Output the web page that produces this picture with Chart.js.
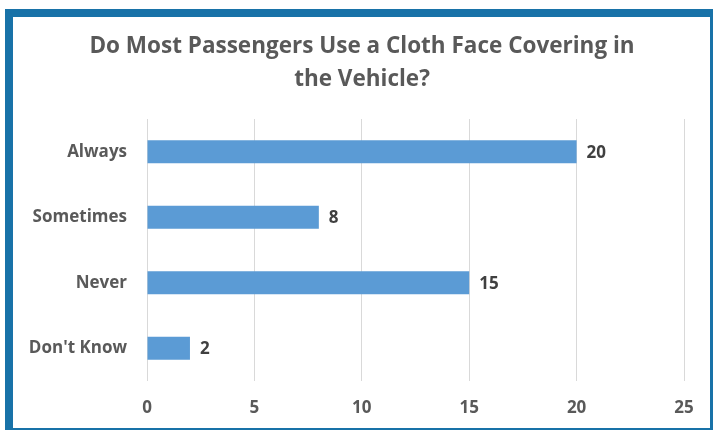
<!DOCTYPE html>
<html lang="en">
<head>
  <meta charset="UTF-8" />
  <title>Cloth Face Covering</title>
  <script src="https://cdn.jsdelivr.net/npm/chart.js"></script>
  <style>
    html, body { margin: 0; padding: 0; background: #fff; }
    .wrap { position: relative; width: 713px; height: 430px; }
    .frame {
      position: absolute; left: 5px; top: 9px; right: 0; bottom: 0;
      border-left: 8px solid #1872a8; border-top: 8px solid #1872a8;
      border-right: 3px solid #1872a8; border-bottom: 2px solid #1872a8;
      box-sizing: border-box;
    }
    canvas { position: absolute; left: 0; top: 0; }
  </style>
</head>
<body>
  <div class="wrap">
    <div class="frame"></div>
    <canvas id="grafica" width="713" height="430"></canvas>
  </div>

  <script>
    const categorias = ['Always', 'Sometimes', 'Never', "Don't Know"];
    const valores = [20, 8, 15, 2];
    const tituloLineas = ['Do Most Passengers Use a Cloth Face Covering in', 'the Vehicle?'];

    const fuente = '"Open Sans", sans-serif';

    // titulo centrado sobre la figura (no sobre el area del grafico)
    const titulo = {
      id: 'titulo',
      beforeDraw(chart) {
        const ctx = chart.ctx;
        ctx.save();
        ctx.font = 'bold 22.5px ' + fuente;
        ctx.fillStyle = '#595959';
        ctx.textAlign = 'center';
        ctx.textBaseline = 'middle';
        tituloLineas.forEach((linea, i) => {
          ctx.fillText(linea, 362, 47 + i * 33);
        });
        ctx.restore();
      }
    };

    // etiquetas de valor a la derecha de cada barra
    const etiquetasValor = {
      id: 'etiquetasValor',
      afterDatasetsDraw(chart) {
        const ctx = chart.ctx;
        const meta = chart.getDatasetMeta(0);
        ctx.save();
        ctx.font = 'bold 17px ' + fuente;
        ctx.fillStyle = '#404040';
        ctx.textBaseline = 'middle';
        ctx.textAlign = 'left';
        meta.data.forEach((bar, i) => {
          ctx.fillText(String(valores[i]), bar.x + 10, bar.y + 1);
        });
        ctx.restore();
      }
    };

    new Chart(document.getElementById('grafica'), {
      type: 'bar',
      data: {
        labels: categorias,
        datasets: [{
          data: valores,
          backgroundColor: '#5b9bd5',
          categoryPercentage: 1,
          barPercentage: 0.35
        }]
      },
      options: {
        indexAxis: 'y',
        responsive: false,
        animation: false,
        layout: { padding: { left: 14, right: 29, top: 119, bottom: 0 } },
        plugins: {
          legend: { display: false },
          tooltip: { enabled: false },
          title: { display: false }
        },
        scales: {
          x: {
            min: 0,
            max: 25,
            ticks: {
              stepSize: 5,
              color: '#595959',
              font: { family: fuente, size: 17, weight: 'bold' },
              padding: 17
            },
            grid: { color: '#d9d9d9', drawTicks: false },
            border: { display: false },
            afterFit(scale) { scale.height = 49; }
          },
          y: {
            ticks: {
              color: '#595959',
              font: { family: fuente, size: 17, weight: 'bold' },
              padding: 20
            },
            grid: { display: false, drawTicks: false },
            border: { display: false },
            afterFit(scale) { scale.width = 133; }
          }
        }
      },
      plugins: [titulo, etiquetasValor]
    });
  </script>
</body>
</html>
